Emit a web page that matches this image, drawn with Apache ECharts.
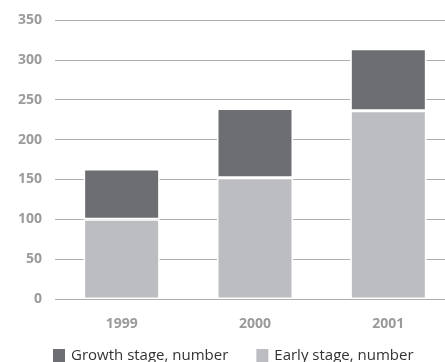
<!DOCTYPE html>
<html><head><meta charset="utf-8">
<script src="https://cdn.jsdelivr.net/npm/echarts@6/dist/echarts.min.js"></script>
<style>html,body{margin:0;padding:0;background:#fff}#c{width:445px;height:362px}</style>
</head><body><div id="c"></div>
<script>
const categories = ['1999', '2000', '2001'];
const earlyStage = [100, 152, 236];
const growthStage = [63, 87, 78];
const yTicks = [0, 50, 100, 150, 200, 250, 300, 350];

const chart = echarts.init(document.getElementById('c'), null, {renderer: 'canvas'});
chart.setOption({
  animation: false,
  grid: {left: 55, width: 400, top: 20, bottom: 63, containLabel: false, outerBoundsMode: 'none'},
  legend: {
    left: 51, top: 347, padding: 0, itemWidth: 14, itemHeight: 15, itemGap: 26,
    icon: 'rect',
    textStyle: {fontFamily: 'Open Sans', fontSize: 15, color: '#333'},
    data: ['Growth stage, number', 'Early stage, number']
  },
  xAxis: {
    type: 'category', data: categories,
    axisLine: {show: false}, axisTick: {show: false},
    axisLabel: {fontFamily: 'Open Sans', fontWeight: 'bold', fontSize: 14, color: '#9a9b9d', margin: 18}
  },
  yAxis: {
    type: 'value', min: 0, max: 350, interval: 50,
    axisLine: {show: false}, axisTick: {show: false},
    axisLabel: {fontFamily: 'Open Sans', fontWeight: 'bold', fontSize: 14, color: '#9a9b9d', margin: 13},
    splitLine: {lineStyle: {color: '#b0b0b0', width: 1}}
  },
  series: [
    {name: 'Early stage, number', type: 'bar', stack: 's', data: earlyStage, barWidth: 76,
     itemStyle: {color: '#bcbdc0', borderColor: '#fff', borderWidth: 1.5}},
    {name: 'Growth stage, number', type: 'bar', stack: 's', data: growthStage, barWidth: 76,
     itemStyle: {color: '#6d6e71', borderColor: '#fff', borderWidth: 1.5}}
  ]
});
</script></body></html>
